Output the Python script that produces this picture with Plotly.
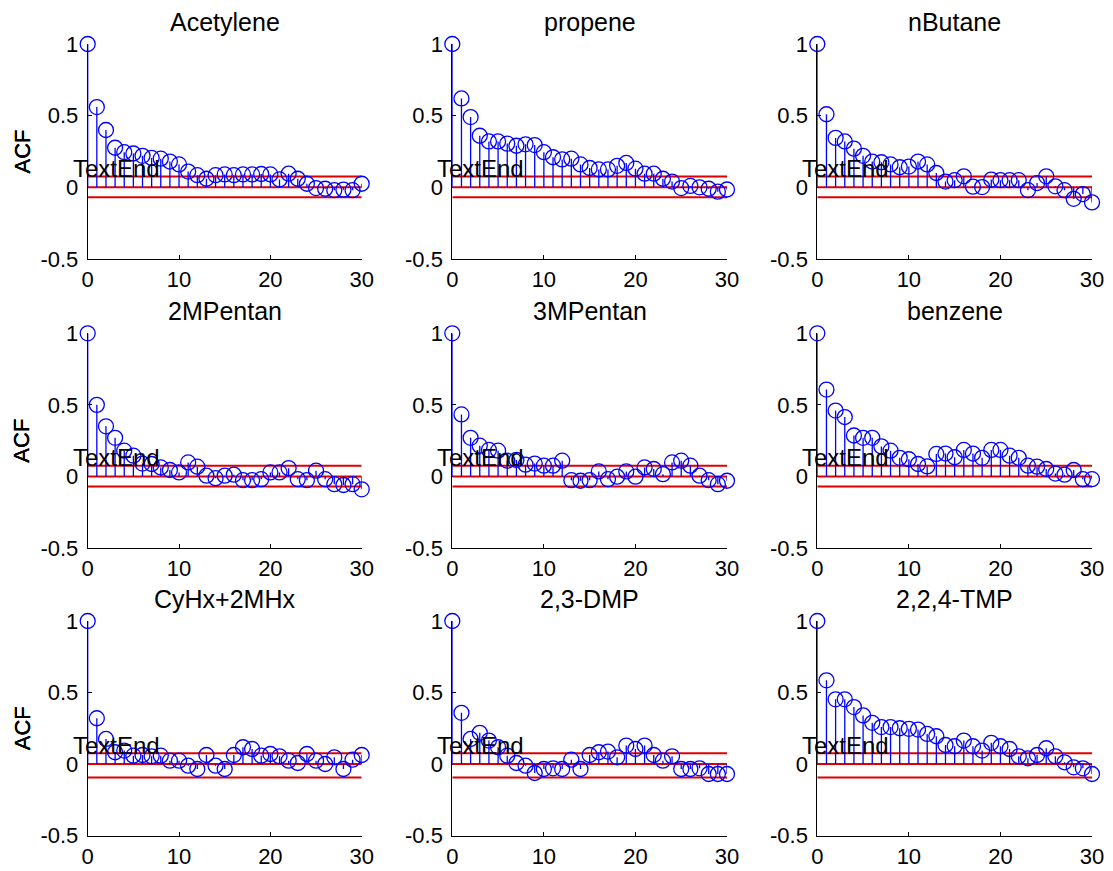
import plotly.graph_objects as go

W, H = 1113, 871

titles = ["Acetylene", "propene", "nButane",
          "2MPentan", "3MPentan", "benzene",
          "CyHx+2MHx", "2,3-DMP", "2,2,4-TMP"]

lags = list(range(31))

acetylene = [1.0, 0.56, 0.40, 0.276, 0.245, 0.236, 0.22, 0.205, 0.20, 0.18, 0.16,
             0.11, 0.085, 0.06, 0.085, 0.09, 0.085, 0.09, 0.09, 0.093, 0.09,
             0.055, 0.095, 0.06, 0.025, -0.005, -0.01, -0.02, -0.016, -0.02, 0.025]
propene = [1.0, 0.62, 0.49, 0.36, 0.32, 0.32, 0.305, 0.29, 0.30, 0.295, 0.245,
           0.21, 0.195, 0.20, 0.16, 0.135, 0.125, 0.125, 0.15, 0.17, 0.13,
           0.095, 0.095, 0.06, 0.04, -0.005, 0.01, 0.0, -0.01, -0.03, -0.015]
nbutane = [1.0, 0.51, 0.345, 0.32, 0.27, 0.22, 0.18, 0.175, 0.16, 0.14, 0.145,
           0.18, 0.16, 0.10, 0.04, 0.05, 0.077, 0.005, 0.002, 0.054, 0.05,
           0.05, 0.05, -0.02, 0.03, 0.077, 0.007, -0.02, -0.08, -0.047, -0.105]
mpentan2 = [1.0, 0.50, 0.35, 0.27, 0.18, 0.145, 0.09, 0.087, 0.063, 0.045, 0.028,
            0.098, 0.068, 0.005, -0.012, 0.005, 0.012, -0.026, -0.026, -0.019, 0.028,
            0.028, 0.058, -0.019, -0.026, 0.04, -0.019, -0.054, -0.06, -0.054, -0.09]
mpentan3 = [1.0, 0.433, 0.27, 0.215, 0.185, 0.18, 0.11, 0.115, 0.082, 0.09, 0.075,
            0.075, 0.11, -0.026, -0.03, -0.026, 0.035, -0.019, -0.002, 0.035, -0.002,
            0.063, 0.052, 0.016, 0.098, 0.11, 0.075, 0.005, -0.026, -0.054, -0.03]
benzene = [1.0, 0.607, 0.46, 0.415, 0.286, 0.27, 0.27, 0.21, 0.18, 0.13, 0.12,
           0.087, 0.07, 0.157, 0.16, 0.134, 0.185, 0.16, 0.13, 0.185, 0.185,
           0.145, 0.13, 0.075, 0.068, 0.052, 0.02, 0.012, 0.045, -0.019, -0.019]
cyhx = [1.0, 0.32, 0.175, 0.082, 0.094, 0.058, 0.063, 0.054, 0.058, 0.023, 0.023,
        -0.012, -0.035, 0.063, -0.012, -0.035, 0.063, 0.117, 0.105, 0.058, 0.07,
        0.054, 0.023, 0.007, 0.07, 0.023, 0.0, 0.047, -0.035, 0.03, 0.063]
dmp23 = [1.0, 0.358, 0.175, 0.218, 0.164, 0.117, 0.058, 0.007, -0.012, -0.063, -0.035,
         -0.03, -0.035, 0.03, -0.035, 0.063, 0.082, 0.087, 0.047, 0.129, 0.105,
         0.129, 0.063, 0.023, 0.054, -0.035, -0.035, -0.03, -0.07, -0.07, -0.07]
tmp224 = [1.0, 0.585, 0.452, 0.452, 0.398, 0.34, 0.288, 0.258, 0.258, 0.25, 0.246,
          0.241, 0.21, 0.194, 0.133, 0.124, 0.164, 0.124, 0.094, 0.148, 0.124,
          0.105, 0.054, 0.04, 0.063, 0.11, 0.054, 0.012, -0.023, -0.03, -0.07]

series = [acetylene, propene, nbutane, mpentan2, mpentan3, benzene, cyhx, dmp23, tmp224]

upper_bounds = [0.075, 0.075, 0.075, 0.075, 0.075, 0.075, 0.075, 0.075, 0.075]
lower_bounds = [-0.07, -0.07, -0.07, -0.07, -0.07, -0.07, -0.094, -0.094, -0.094]

y_ticks = [-0.5, 0, 0.5, 1]
y_tick_labels = ["-0.5", "0", "0.5", "1"]
x_ticks = [0, 10, 20, 30]
x_tick_labels = ["0", "10", "20", "30"]

# layout in pixels
col_px = [(87.7, 361.7), (452.3, 727.0), (817.3, 1092.0)]
row_px = [(44.0, 259.0), (333.3, 548.0), (621.0, 835.5)]

FONT = "Liberation Sans, Arial, sans-serif"
BLUE = "#0000ff"
RED = "#e00000"

fig = go.Figure()
annotations = []
layout_axes = {}

for i, (name, vals) in enumerate(zip(titles, series)):
    r, c = divmod(i, 3)
    n = i + 1
    xa = "x" if n == 1 else f"x{n}"
    ya = "y" if n == 1 else f"y{n}"
    xkey = "xaxis" if n == 1 else f"xaxis{n}"
    ykey = "yaxis" if n == 1 else f"yaxis{n}"
    x0, x1 = col_px[c]
    y0, y1 = row_px[r]

    # bound / zero lines
    for lv in (upper_bounds[i], 0.0, lower_bounds[i]):
        fig.add_trace(go.Scatter(x=[lags[0], lags[-1]], y=[lv, lv], mode="lines",
                                 line=dict(color=RED, width=2), xaxis=xa, yaxis=ya,
                                 showlegend=False, hoverinfo="skip"))
    # stems
    sx, sy = [], []
    for k, v in zip(lags, vals):
        sx += [k, k, None]
        sy += [0, v, None]
    fig.add_trace(go.Scatter(x=sx, y=sy, mode="lines", line=dict(color=BLUE, width=1.3),
                             xaxis=xa, yaxis=ya, showlegend=False, hoverinfo="skip"))
    # markers
    fig.add_trace(go.Scatter(x=lags, y=vals, mode="markers",
                             marker=dict(symbol="circle-open", size=15, color=BLUE,
                                         line=dict(width=1.3, color=BLUE)),
                             xaxis=xa, yaxis=ya, showlegend=False, cliponaxis=False))

    layout_axes[xkey] = dict(domain=[x0 / W, x1 / W], range=[0, 30], anchor=ya,
                             tickvals=x_ticks, ticktext=x_tick_labels,
                             ticks="inside", ticklen=4, tickcolor="black",
                             showline=True, linecolor="black", linewidth=1,
                             showgrid=False, zeroline=False, layer="below traces",
                             automargin=False,
                             tickfont=dict(family=FONT, size=22, color="black"),
                             ticklabelstandoff=1, fixedrange=True)
    layout_axes[ykey] = dict(domain=[1 - y1 / H, 1 - y0 / H], range=[-0.5, 1], anchor=xa,
                             tickvals=y_ticks, ticktext=y_tick_labels,
                             ticks="inside", ticklen=4, tickcolor="black",
                             showline=True, linecolor="black", linewidth=1,
                             showgrid=False, zeroline=False, layer="below traces",
                             automargin=False,
                             tickfont=dict(family=FONT, size=22, color="black"),
                             ticklabelstandoff=4, fixedrange=True)

    # title
    annotations.append(dict(text=name, x=(x0 + x1) / 2 / W, y=1 - (y0 - 22) / H,
                            xref="paper", yref="paper", xanchor="center", yanchor="middle",
                            showarrow=False, font=dict(family=FONT, size=25, color="black")))
    # ACF label
    annotations.append(dict(text="ACF", x=22 / W, y=1 - (y0 + y1) / 2 / H,
                            xref="paper", yref="paper", xanchor="center", yanchor="middle",
                            textangle=-90, showarrow=False,
                            font=dict(family=FONT, size=22, color="black")))
    # TextEnd
    annotations.append(dict(text="TextEnd", x=0, y=0.13, xref=xa, yref=ya, xshift=-17,
                            xanchor="left", yanchor="middle", showarrow=False,
                            font=dict(family=FONT, size=24, color="black")))

fig.update_layout(template="none", width=W, height=H, margin=dict(l=0, r=0, t=0, b=0),
                  paper_bgcolor="white", plot_bgcolor="white",
                  annotations=annotations, showlegend=False, **layout_axes)

fig.write_html("out.html", config={"displayModeBar": False})
